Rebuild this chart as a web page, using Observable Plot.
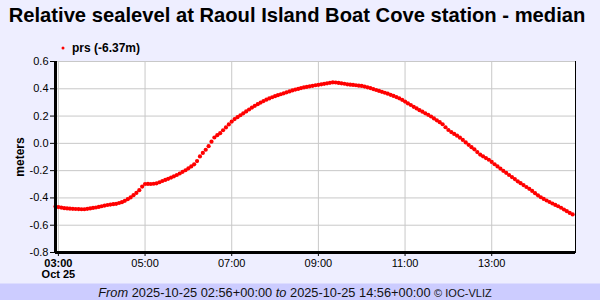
<!DOCTYPE html>
<html>
<head>
<meta charset="utf-8">
<script src="https://cdn.jsdelivr.net/npm/d3@7"></script>
<script src="https://cdn.jsdelivr.net/npm/@observablehq/plot@0.6"></script>
<style>
  html, body { margin: 0; padding: 0; background: #eeeeff; }
  #chart { width: 600px; height: 300px; }
</style>
</head>
<body>
<div id="chart"></div>
<script>
// ---- data ----
const startTime = "2025-10-25T02:56:00Z";
const endTime = "2025-10-25T14:56:00Z";
const stepMinutes = 4;
// relative sea level (m), one reading every 4 minutes from 02:56 UTC
const seaLevel = [
  -0.463,-0.467,-0.471,-0.475,-0.477,-0.479,-0.480,-0.481,-0.482,-0.483,
  -0.483,-0.480,-0.477,-0.473,-0.470,-0.466,-0.461,-0.456,-0.452,-0.449,
  -0.446,-0.443,-0.437,-0.431,-0.421,-0.409,-0.396,-0.380,-0.363,-0.343,
  -0.317,-0.298,-0.297,-0.298,-0.296,-0.293,-0.285,-0.276,-0.268,-0.260,
  -0.251,-0.242,-0.232,-0.221,-0.209,-0.197,-0.183,-0.169,-0.154,-0.130,
  -0.096,-0.070,-0.047,-0.021,0.012,0.043,0.060,0.075,0.096,0.117,
  0.139,0.160,0.178,0.192,0.206,0.220,0.234,0.248,0.262,0.275,
  0.287,0.299,0.310,0.320,0.329,0.338,0.346,0.353,0.360,0.367,
  0.374,0.381,0.388,0.394,0.399,0.405,0.410,0.414,0.418,0.422,
  0.426,0.429,0.433,0.436,0.440,0.444,0.447,0.446,0.443,0.440,
  0.437,0.433,0.430,0.428,0.426,0.423,0.421,0.416,0.411,0.405,
  0.398,0.391,0.384,0.378,0.371,0.364,0.356,0.348,0.339,0.330,
  0.319,0.306,0.293,0.281,0.268,0.256,0.243,0.232,0.220,0.209,
  0.197,0.183,0.169,0.155,0.140,0.118,0.098,0.083,0.069,0.056,
  0.042,0.025,0.007,-0.011,-0.028,-0.044,-0.064,-0.082,-0.095,-0.108,
  -0.120,-0.136,-0.153,-0.169,-0.185,-0.201,-0.216,-0.232,-0.247,-0.262,
  -0.278,-0.292,-0.306,-0.320,-0.333,-0.349,-0.365,-0.381,-0.395,-0.407,
  -0.419,-0.430,-0.441,-0.451,-0.461,-0.472,-0.485,-0.497,-0.510,-0.521
];
const yTicks = [-0.8, -0.6, -0.4, -0.2, 0, 0.2, 0.4, 0.6];
const xTickStrings = ["2025-10-25T03:00:00Z","2025-10-25T05:00:00Z","2025-10-25T07:00:00Z",
  "2025-10-25T09:00:00Z","2025-10-25T11:00:00Z","2025-10-25T13:00:00Z"];
const firstDayLabel = "Oct 25";
const titleText = "Relative sealevel at Raoul Island Boat Cove station - median";
const seriesName = "prs (-6.37m)";
const yLabel = "meters";

// ---- build table ----
const t0 = new Date(startTime).getTime();
const data = seaLevel.map((v, i) => ({t: new Date(t0 + i * stepMinutes * 60000), v}));
const xTicks = xTickStrings.map(s => new Date(s));
const fmtHM = d3.utcFormat("%H:%M");

const plot = Plot.plot({
  width: 600,
  height: 300,
  marginLeft: 55,
  marginRight: 25,
  marginTop: 61,
  marginBottom: 48,
  style: {background: "transparent", fontFamily: "Liberation Sans, Arial, sans-serif", fontSize: "11px", color: "black"},
  x: {type: "utc", domain: [new Date(startTime), new Date(endTime)]},
  y: {domain: [-0.8, 0.6]},
  marks: [
    Plot.frame({fill: "white", stroke: "black", strokeWidth: 1}),
    Plot.gridX(xTicks, {stroke: "#c8c8c8", strokeOpacity: 1, strokeWidth: 1}),
    Plot.gridY(yTicks, {stroke: "#c8c8c8", strokeOpacity: 1, strokeWidth: 1}),
    Plot.axisX({ticks: xTicks, tickSize: 4, tickPadding: 3, fontSize: 11,
      tickFormat: (d, i) => i === 0 ? fmtHM(d) + "\n" + firstDayLabel : fmtHM(d), label: null}),
    Plot.axisY({ticks: yTicks, tickSize: 5, tickPadding: 2, fontSize: 11,
      tickFormat: d => d.toFixed(1), label: null}),
    Plot.dot(data, {x: "t", y: "v", r: 2.1, fill: "#ff0000", stroke: null}),
    Plot.ruleX([new Date(startTime)], {stroke: "black", strokeWidth: 3}),
    Plot.ruleY([-0.8], {stroke: "black", strokeWidth: 3})
  ]
});
document.getElementById("chart").appendChild(plot);

const svg = d3.select(plot);
// bold the first x tick label
svg.selectAll('g[aria-label="x-axis tick label"] text').filter((d, i) => i === 0)
  .attr("font-weight", "bold");

// title
svg.append("text").attr("x", 297).attr("y", 22).attr("text-anchor", "middle")
  .attr("font-size", 20.2).attr("font-weight", "bold").attr("fill", "black")
  .text(titleText);
// legend
svg.append("circle").attr("cx", 63).attr("cy", 48).attr("r", 1.5).attr("fill", "#ff0000");
svg.append("text").attr("x", 72).attr("y", 52).attr("text-anchor", "start")
  .attr("font-size", 12).attr("font-weight", "bold")
  .attr("fill", "black").text(seriesName);
// y label
svg.append("text").attr("transform", "translate(24,157) rotate(-90)").attr("text-anchor", "middle")
  .attr("font-size", 12).attr("font-weight", "bold").attr("fill", "black").text(yLabel);
// footer
svg.append("rect").attr("x", 0).attr("y", 283.5).attr("width", 600).attr("height", 16.5).attr("fill", "#ccccff");
const ft = svg.append("text").attr("x", 295).attr("y", 297).attr("text-anchor", "middle")
  .attr("font-size", 12.8).attr("fill", "#111");
ft.append("tspan").attr("font-style", "italic").text("From ");
ft.append("tspan").text("2025-10-25 02:56+00:00 ");
ft.append("tspan").attr("font-style", "italic").text("to ");
ft.append("tspan").text("2025-10-25 14:56+00:00 ");
ft.append("tspan").attr("font-size", 11).text("© IOC-VLIZ");
</script>
</body>
</html>
